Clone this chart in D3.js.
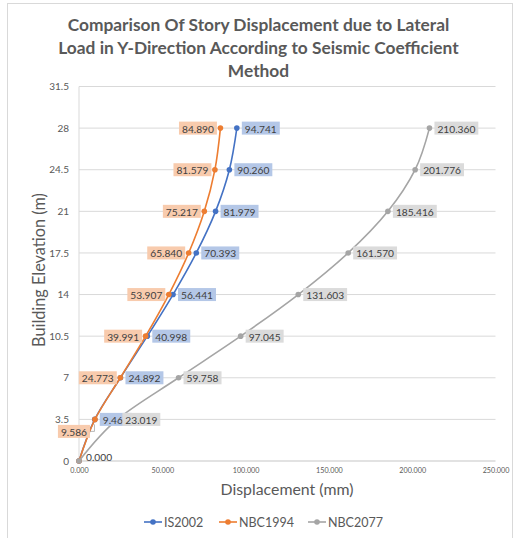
<!DOCTYPE html>
<html>
<head>
<meta charset="utf-8">
<script src="https://cdn.jsdelivr.net/npm/d3@7"></script>
<style>
  html, body { margin: 0; padding: 0; background: #fff; }
  svg { display: block; }
  text { font-family: "Lato", "Open Sans", sans-serif; }
</style>
</head>
<body>
<svg id="chart" width="517" height="538"></svg>
<script>
// Story heights (m)
const elevations = [0, 3.5, 7, 10.5, 14, 17.5, 21, 24.5, 28];
// Story displacement (mm) per code
const is2002  = [0, 9.460, 24.892, 40.998, 56.441, 70.393, 81.979, 90.260, 94.741];
const nbc1994 = [0, 9.586, 24.773, 39.991, 53.907, 65.840, 75.217, 81.579, 84.890];
const nbc2077 = [0, 23.019, 59.758, 97.045, 131.603, 161.570, 185.416, 201.776, 210.360];
const seriesNames = ["IS2002", "NBC1994", "NBC2077"];
const yTicks = [0, 3.5, 7, 10.5, 14, 17.5, 21, 24.5, 28, 31.5];
const xTicks = [0, 50, 100, 150, 200, 250];
const titleLines = [
  "Comparison Of Story Displacement due to Lateral",
  "Load in Y-Direction According to Seismic Coefficient",
  "Method"
];

const series = [
  { name: seriesNames[0], values: is2002,  color: "#4472C4", labelBg: "#B4C7E7", side: "right" },
  { name: seriesNames[1], values: nbc1994, color: "#ED7D31", labelBg: "#F8CBAD", side: "left" },
  { name: seriesNames[2], values: nbc2077, color: "#A5A5A5", labelBg: "#DBDBDB", side: "right" }
];

const svg = d3.select("#chart");
const textColor = "#595959";
const gridColor = "#D9D9D9";

// fit a text element to a target width by scaling its font size
function fitWidth(sel, target) {
  const w = sel.node().getComputedTextLength();
  const fs = parseFloat(sel.attr("font-size"));
  sel.attr("font-size", fs * target / w);
}

// chart frame
svg.append("rect")
  .attr("x", 7.5).attr("y", 3.5).attr("width", 505).attr("height", 545)
  .attr("fill", "#fff").attr("stroke", gridColor).attr("stroke-width", 1);

const x = d3.scaleLinear().domain([0, 250]).range([79, 495.5]);
const y = d3.scaleLinear().domain([0, 31.5]).range([461, 86.5]);

// title
const title = svg.append("g");
const tl = title.selectAll("text").data(titleLines).join("text")
  .attr("x", 258.5)
  .attr("y", (d, i) => 31 + i * 23)
  .attr("text-anchor", "middle")
  .attr("font-size", 18)
  .attr("font-weight", "bold")
  .attr("fill", textColor)
  .text(d => d);
fitWidth(d3.select(tl.nodes()[0]), 382);
const titleSize = d3.select(tl.nodes()[0]).attr("font-size");
tl.attr("font-size", titleSize);

// horizontal gridlines
svg.append("g").selectAll("line").data(yTicks.filter(v => v > 0)).join("line")
  .attr("x1", x(0)).attr("x2", x(250))
  .attr("y1", d => y(d)).attr("y2", d => y(d))
  .attr("stroke", gridColor).attr("stroke-width", 1);

// axis lines
svg.append("line")
  .attr("x1", x(0)).attr("x2", x(0)).attr("y1", y(31.5)).attr("y2", y(0))
  .attr("stroke", gridColor).attr("stroke-width", 1);
svg.append("line")
  .attr("x1", x(0)).attr("x2", x(250)).attr("y1", y(0)).attr("y2", y(0))
  .attr("stroke", gridColor).attr("stroke-width", 1.6);

// y tick labels
const yAxis = d3.axisLeft(y).tickValues(yTicks).tickSize(0).tickPadding(10)
  .tickFormat(d => String(d));
const gy = svg.append("g").attr("transform", `translate(${x(0)},0)`).call(yAxis);
gy.select(".domain").remove();
gy.selectAll("text").attr("fill", textColor).attr("font-size", 10)
  .attr("font-family", "Lato, 'Open Sans', sans-serif");

// x tick labels
const xAxis = d3.axisBottom(x).tickValues(xTicks).tickSize(0).tickPadding(7)
  .tickFormat(d3.format(".3f"));
const gx = svg.append("g").attr("transform", `translate(0,${y(0)})`).call(xAxis);
gx.select(".domain").remove();
gx.selectAll("text").attr("fill", textColor).attr("font-size", 7.2)
  .attr("font-family", "Lato, 'Open Sans', sans-serif");

// axis titles
const xt = svg.append("text")
  .attr("x", 287).attr("y", 495)
  .attr("text-anchor", "middle").attr("font-size", 15).attr("fill", textColor)
  .text("Displacement (mm)");
fitWidth(xt, 133);
const yt = svg.append("text")
  .attr("transform", "translate(45,270) rotate(-90)")
  .attr("text-anchor", "middle").attr("font-size", 15).attr("fill", textColor)
  .text("Building Elevation (m)");
fitWidth(yt, 154);

// series lines and markers
const line = d3.line()
  .x(d => x(d.v)).y(d => y(d.h))
  .curve(d3.curveCardinal.tension(0));

series.forEach(s => {
  s.points = s.values.map((v, i) => ({ v, h: elevations[i], i }));
});

const gLines = svg.append("g");
series.forEach(s => {
  gLines.append("path")
    .datum(s.points)
    .attr("d", line)
    .attr("fill", "none")
    .attr("stroke", s.color)
    .attr("stroke-width", 1.6);
  gLines.append("g").selectAll("circle").data(s.points).join("circle")
    .attr("cx", d => x(d.v)).attr("cy", d => y(d.h))
    .attr("r", 2.8).attr("fill", s.color);
});

// data labels
const fmt = d3.format(".3f");
const labelFont = 10.2;
const padX = 3, boxH = 13;
// manual nudges for labels that would collide: [series, index, dx, dy]
const nudges = [["NBC1994", 1, -1.5, 12]];
const gLabels = svg.append("g");
series.forEach(s => {
  s.points.forEach(p => {
    if (p.i === 0) return;
    const px = x(p.v), py = y(p.h);
    const g = gLabels.append("g");
    const rect = g.append("rect").attr("fill", s.labelBg);
    const t = g.append("text")
      .attr("font-size", labelFont).attr("fill", "#404040")
      .attr("dominant-baseline", "central")
      .text(fmt(p.v));
    const tw = t.node().getComputedTextLength();
    const bw = tw + padX * 2;
    let bx = s.side === "left" ? px - 3.5 - bw : px + 5;
    let by = py;
    const n = nudges.find(d => d[0] === s.name && d[1] === p.i);
    if (n) { bx += n[2]; by += n[3]; }
    rect.attr("x", bx).attr("y", by - boxH / 2).attr("width", bw).attr("height", boxH);
    t.attr("x", bx + padX).attr("y", by + 0.5);
    if (n) {
      g.append("path")
        .attr("d", `M${bx + bw},${by}H${px - 0.5}V${py + 5}`)
        .attr("fill", "none").attr("stroke", "#A6A6A6").attr("stroke-width", 0.8);
    }
  });
});
// origin label
const origin = series[2].points[0];
gLabels.append("text")
  .attr("x", x(origin.v) + 7).attr("y", y(origin.h) - 4)
  .attr("font-size", labelFont).attr("fill", "#404040")
  .attr("dominant-baseline", "central")
  .text(fmt(origin.v));

// legend
const legendX = [144, 219, 308];
const legend = svg.append("g");
series.forEach((s, i) => {
  const lg = legend.append("g").attr("transform", `translate(${legendX[i]},522)`);
  lg.append("line").attr("x1", 0).attr("x2", 18).attr("y1", 0).attr("y2", 0)
    .attr("stroke", s.color).attr("stroke-width", 1.6);
  lg.append("circle").attr("cx", 9).attr("cy", 0).attr("r", 2.8).attr("fill", s.color);
  lg.append("text").attr("x", 20).attr("y", 0)
    .attr("dominant-baseline", "central")
    .attr("font-size", 12.5).attr("fill", textColor)
    .text(s.name);
});
</script>
</body>
</html>
